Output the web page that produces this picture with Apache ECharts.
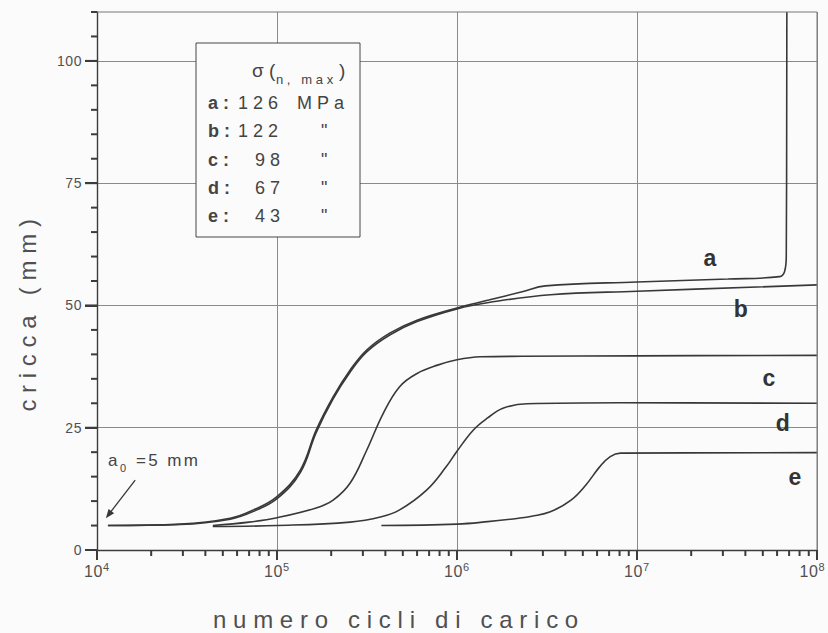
<!DOCTYPE html>
<html>
<head>
<meta charset="utf-8">
<script src="https://cdn.jsdelivr.net/npm/echarts@6/dist/echarts.min.js"></script>
<style>
  html, body { margin: 0; padding: 0; background: #fbfbfb; }
  #chart { width: 828px; height: 633px; }
  /* wide, typewriter-like spacing of the printed lettering */
  #chart text[style*="Liberation Sans"] { letter-spacing: 0.28em; }
  #chart text[style*="17px"] { letter-spacing: 0.14em; }
  #chart text[style*="Arimo"] { letter-spacing: 0.04em; }
</style>
</head>
<body>
<div id="chart"></div>
<script>
// Crack length (mm) against number of load cycles, one curve per peak stress.
const curveNames = ['a', 'b', 'c', 'd', 'e'];
const stressMPa = [126, 122, 98, 67, 43];

const cyclesA = [1.15e4, 2.9e4, 5.5e4, 7.4e4, 1.0e5, 1.35e5, 1.65e5, 2.05e5, 2.55e5, 3.15e5, 4.25e5, 6.0e5, 1.0e6, 1.5e6, 2.3e6, 3.1e6, 1.0e7, 3.2e7, 6.2e7, 6.6e7, 6.75e7, 6.8e7];
const crackA  = [5.0, 5.3, 6.5, 8.2, 10.9, 16.4, 24.5, 31.3, 36.8, 40.9, 44.4, 47.0, 49.5, 51.1, 52.8, 54.0, 54.8, 55.4, 55.9, 56.9, 60.0, 110];

const cyclesB = [1.15e4, 2.9e4, 5.5e4, 7.4e4, 1.0e5, 1.35e5, 1.65e5, 2.05e5, 2.55e5, 3.15e5, 4.25e5, 6.0e5, 1.0e6, 1.5e6, 3.3e6, 1.0e7, 1.0e8];
const crackB  = [5.0, 5.2, 6.3, 7.9, 10.5, 15.9, 24.0, 30.9, 36.4, 40.5, 44.0, 46.7, 49.3, 50.6, 52.2, 52.9, 54.2];

const cyclesC = [4.4e4, 7.0e4, 1.0e5, 1.65e5, 2.05e5, 2.55e5, 3.15e5, 3.9e5, 4.8e5, 6.0e5, 7.8e5, 1.0e6, 1.35e6, 2.3e6, 1.0e7, 1.0e8];
const crackC  = [5.0, 5.7, 6.6, 8.6, 10.2, 13.7, 20.4, 28.0, 33.4, 36.1, 37.8, 38.9, 39.5, 39.6, 39.7, 39.8];

const cyclesD = [4.4e4, 1.0e5, 2.55e5, 3.8e5, 4.8e5, 6.8e5, 8.7e5, 1.0e6, 1.23e6, 1.48e6, 1.8e6, 2.45e6, 8.1e6, 1.0e8];
const crackD  = [4.8, 5.0, 5.7, 6.8, 8.2, 12.3, 17.0, 20.2, 24.5, 27.0, 29.0, 29.9, 30.1, 30.0];

const cyclesE = [3.8e5, 1.0e6, 1.48e6, 2.2e6, 2.6e6, 3.3e6, 4.3e6, 5.2e6, 6.2e6, 7.1e6, 8.1e6, 1.0e8];
const crackE  = [5.0, 5.3, 5.8, 6.5, 6.9, 7.8, 10.2, 13.3, 17.0, 19.1, 19.8, 19.9];

// axis ticks
const xMajorTicks = [1e4, 1e5, 1e6, 1e7, 1e8];
const yMajorTicks = [0, 25, 50, 75, 100];
const yMinorTicks = [5, 10, 15, 20, 30, 35, 40, 45, 55, 60, 65, 70, 80, 85, 90, 95, 105, 110];
const xMinorTicks = [];
for (let p = 4; p < 8; p++) {
  for (let m = 2; m <= 9; m++) xMinorTicks.push(m * Math.pow(10, p));
}

// initial crack length annotation arrow (tail, head)
const arrowFrom = [1.63e4, 14.3];
const arrowTo = [1.12e4, 6.5];

const FONT = "'Liberation Sans', Arial, sans-serif";
const TICK_FONT = "Arimo, 'Liberation Sans', Arial, sans-serif";
const INK = '#383838';
const AXIS = '#3c3c3c';
const LABEL = '#505050';

const allCycles = [cyclesA, cyclesB, cyclesC, cyclesD, cyclesE];
const allCrack = [crackA, crackB, crackC, crackD, crackE];

const series = curveNames.map((name, i) => ({
  name: name,
  type: 'line',
  data: allCycles[i].map((n, k) => [n, allCrack[i][k]]),
  showSymbol: false,
  symbol: 'none',
  smooth: 0.4,
  lineStyle: { color: INK, width: 1.6 },
  animation: false
}));

// box listing the peak stress of each curve
const rowGap = 28.3, firstRow = 103;
const boxTexts = [];
curveNames.forEach((name, i) => {
  const y = firstRow + i * rowGap;
  boxTexts.push({
    type: 'text', x: 208, y: y, z: 101,
    style: { text: name + ':', font: 'bold 18px ' + FONT, fill: '#444', verticalAlign: 'middle', textVerticalAlign: 'middle' }
  });
  boxTexts.push({
    type: 'text', x: i < 2 ? 238 : 255, y: y, z: 101,
    style: { text: String(stressMPa[i]), font: '18px ' + FONT, fill: '#444', verticalAlign: 'middle', textVerticalAlign: 'middle' }
  });
  boxTexts.push({
    type: 'text', x: i === 0 ? 297 : 321, y: y, z: 101,
    style: { text: i === 0 ? 'MPa' : '"', font: '18px ' + FONT, fill: '#444', verticalAlign: 'middle', textVerticalAlign: 'middle' }
  });
});

// curve letters beside the plateaus
const curveLabelPos = [[713, 258], [744, 309], [772, 378], [786, 423], [798, 477]];
const curveLabels = curveNames.map((name, i) => ({
  type: 'text', x: curveLabelPos[i][0], y: curveLabelPos[i][1], z: 20,
  style: {
    text: name, font: 'bold 23px ' + FONT, fill: '#333',
    align: 'center', textAlign: 'center', verticalAlign: 'middle', textVerticalAlign: 'middle'
  }
}));

const staticGraphics = [
  {
    type: 'rect', z: 100,
    shape: { x: 196, y: 43, width: 164, height: 194 },
    style: { fill: '#fbfbfb', stroke: '#474747', lineWidth: 1 }
  },
  {
    type: 'text', x: 252, y: 70, z: 101,
    style: { text: 'σ(', font: '19px ' + FONT, fill: '#444', verticalAlign: 'middle', textVerticalAlign: 'middle' }
  },
  {
    type: 'text', x: 276, y: 79, z: 101,
    style: { text: 'n, max', font: '13px ' + FONT, fill: '#444', verticalAlign: 'middle', textVerticalAlign: 'middle' }
  },
  {
    type: 'text', x: 339, y: 70, z: 101,
    style: { text: ')', font: '19px ' + FONT, fill: '#444', verticalAlign: 'middle', textVerticalAlign: 'middle' }
  },
  ...boxTexts,
  ...curveLabels,
  // initial crack length note
  {
    type: 'text', x: 108, y: 460, z: 20,
    style: { text: 'a', font: '17px ' + FONT, fill: '#444', verticalAlign: 'middle', textVerticalAlign: 'middle' }
  },
  {
    type: 'text', x: 120, y: 468, z: 20,
    style: { text: '0', font: '11px ' + FONT, fill: '#444', verticalAlign: 'middle', textVerticalAlign: 'middle' }
  },
  {
    type: 'text', x: 136, y: 460, z: 20,
    style: { text: '=5 mm', font: '17px ' + FONT, fill: '#444', verticalAlign: 'middle', textVerticalAlign: 'middle' }
  },
  // axis titles
  {
    type: 'text', x: 27, y: 312, rotation: Math.PI / 2, z: 20,
    style: {
      text: 'cricca (mm)', font: '24px ' + FONT, fill: LABEL,
      align: 'center', textAlign: 'center', verticalAlign: 'middle', textVerticalAlign: 'middle'
    }
  },
  {
    type: 'text', x: 213, y: 619, z: 20,
    style: { text: 'numero cicli di carico', font: '24px ' + FONT, fill: LABEL, verticalAlign: 'middle', textVerticalAlign: 'middle' }
  }
];

const chart = echarts.init(document.getElementById('chart'), null, { renderer: 'svg' });

chart.setOption({
  animation: false,
  grid: {
    left: 97, right: 11, top: 12, bottom: 83,
    containLabel: false,
    outerBoundsMode: 'none'
  },
  xAxis: {
    type: 'log', logBase: 10, min: 1e4, max: 1e8,
    axisLine: { show: true, onZero: false, lineStyle: { color: AXIS, width: 1.4 } },
    axisTick: { show: true, inside: false, length: 10, lineStyle: { color: AXIS, width: 2 } },
    splitLine: { show: true, lineStyle: { color: '#8a8a8a', width: 1 } },
    axisLabel: {
      margin: 11,
      formatter: v => {
        const exp = Math.round(Math.log10(v));
        // the last label is nudged inwards so it stays on the page
        return '{b|10}{' + (exp === 8 ? 'supEnd' : 'sup') + '|' + exp + '}';
      },
      rich: {
        b: { fontSize: 16, fontFamily: TICK_FONT, color: LABEL, lineHeight: 20 },
        sup: { fontSize: 11, fontFamily: TICK_FONT, color: LABEL, lineHeight: 12, verticalAlign: 'top', padding: [0, 0, 0, 1] },
        supEnd: { fontSize: 11, fontFamily: TICK_FONT, color: LABEL, lineHeight: 12, verticalAlign: 'top', padding: [0, 9, 0, 1] }
      }
    }
  },
  yAxis: {
    type: 'value', min: 0, max: 110, interval: 25,
    axisLine: { show: true, lineStyle: { color: AXIS, width: 1.4 } },
    axisTick: { show: true, inside: false, length: 12, customValues: yMajorTicks, lineStyle: { color: AXIS, width: 2 } },
    splitLine: { show: true, lineStyle: { color: '#8a8a8a', width: 1 } },
    axisLabel: {
      margin: 15, fontSize: 14, fontFamily: TICK_FONT, color: LABEL,
      formatter: v => (v > 100 ? '' : String(v))
    }
  },
  series: series
});

// plot frame, tick marks and the annotation arrow, placed through the axis scales
const toPx = (x, y) => chart.convertToPixel({ gridIndex: 0 }, [x, y]);
const marks = [];
const addRect = (x, y, w, h) => marks.push({ type: 'rect', zlevel: 1, z: 5, shape: { x: x, y: y, width: w, height: h }, style: { fill: AXIS } });
xMajorTicks.forEach(v => { const p = toPx(v, 0); addRect(p[0] - 1, p[1], 2, 10); });
xMinorTicks.forEach(v => { const p = toPx(v, 0); addRect(p[0] - 1, p[1], 2, 6); });
yMajorTicks.forEach(v => { const p = toPx(1e4, v); addRect(p[0] - 12, p[1] - 1, 12, 2); });
yMinorTicks.forEach(v => { const p = toPx(1e4, v); addRect(p[0] - 6, p[1] - 1, 6, 2); });

const topLeft = toPx(1e4, 110), topRight = toPx(1e8, 110), bottomRight = toPx(1e8, 0);
marks.push({ type: 'line', zlevel: 1, z: 5, shape: { x1: topLeft[0], y1: topLeft[1], x2: topRight[0], y2: topRight[1] }, style: { stroke: '#777', lineWidth: 1 } });
marks.push({ type: 'line', zlevel: 1, z: 5, shape: { x1: topRight[0], y1: topRight[1], x2: bottomRight[0], y2: bottomRight[1] }, style: { stroke: '#777', lineWidth: 1 } });

const tail = toPx(arrowFrom[0], arrowFrom[1]);
const head = toPx(arrowTo[0], arrowTo[1]);
const dx = head[0] - tail[0], dy = head[1] - tail[1];
const len = Math.hypot(dx, dy), ux = dx / len, uy = dy / len;
marks.push({ type: 'line', zlevel: 1, z: 6, shape: { x1: tail[0], y1: tail[1], x2: head[0] - 6 * ux, y2: head[1] - 6 * uy }, style: { stroke: INK, lineWidth: 1.3 } });
marks.push({
  type: 'polygon', zlevel: 1, z: 6,
  shape: { points: [[head[0], head[1]], [head[0] - 9 * ux + 3.5 * uy, head[1] - 9 * uy - 3.5 * ux], [head[0] - 9 * ux - 3.5 * uy, head[1] - 9 * uy + 3.5 * ux]] },
  style: { fill: INK }
});

chart.setOption({ graphic: [...staticGraphics, ...marks] });
</script>
</body>
</html>
